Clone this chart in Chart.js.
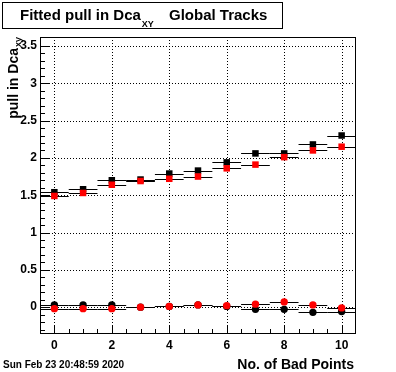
<!DOCTYPE html>
<html>
<head>
<meta charset="utf-8">
<script src="https://cdn.jsdelivr.net/npm/chart.js@4.4.1/dist/chart.umd.min.js"></script>
<style>
  html, body { margin: 0; padding: 0; background: #fff; }
  #wrap { position: relative; width: 396px; height: 372px; }
</style>
</head>
<body>
<div id="wrap"><canvas id="pullChart" width="396" height="372"></canvas></div>
<script>
// Values
const badPoints = [0, 1, 2, 3, 4, 5, 6, 7, 8, 9, 10];
const binHalfWidth = [0.5, 0.5, 0.5, 0.5, 0.5, 0.5, 0.5, 0.5, 0.5, 0.5, 0.5];
const sigmaBlack = [1.54, 1.58, 1.70, 1.71, 1.79, 1.83, 1.94, 2.06, 2.06, 2.18, 2.30];
const sigmaRed = [1.49, 1.53, 1.64, 1.69, 1.72, 1.75, 1.86, 1.91, 2.01, 2.10, 2.15];
const meanBlack = [0.03, 0.03, 0.03, 0.00, 0.01, 0.03, 0.01, -0.03, -0.03, -0.07, -0.06];
const meanRed = [-0.02, -0.02, -0.02, 0.00, 0.01, 0.03, 0.02, 0.04, 0.07, 0.03, -0.01];
const xTickValues = [0, 2, 4, 6, 8, 10];
const yTickValues = [0, 0.5, 1, 1.5, 2, 2.5, 3, 3.5];

const FONT = '"Liberation Sans", Arial, Helvetica, sans-serif';

function toPoints(values) {
    return badPoints.map((x, i) => ({ x: x, y: values[i], ex: binHalfWidth[i] }));
}

// draws dotted grid, error bars, frame, ROOT style ticks and text
const rootStyle = {
    id: 'rootStyle',
    beforeDatasetsDraw(chart) {
        const { ctx, chartArea: a, scales: { x, y } } = chart;
        ctx.save();
        ctx.strokeStyle = '#000';
        ctx.lineWidth = 1;
        ctx.setLineDash([1, 2]);
        ctx.beginPath();
        xTickValues.forEach(v => {
            const px = Math.round(x.getPixelForValue(v)) + 0.5;
            ctx.moveTo(px, a.top); ctx.lineTo(px, a.bottom);
        });
        yTickValues.forEach(v => {
            const py = Math.round(y.getPixelForValue(v)) + 0.5;
            ctx.moveTo(a.left, py); ctx.lineTo(a.right, py);
        });
        ctx.stroke();
        ctx.setLineDash([]);

        // horizontal error bars
        ctx.beginPath();
        chart.data.datasets.forEach(ds => {
            ds.data.forEach(p => {
                const py = Math.round(y.getPixelForValue(p.y)) + 0.5;
                ctx.moveTo(x.getPixelForValue(p.x - p.ex), py);
                ctx.lineTo(x.getPixelForValue(p.x + p.ex), py);
            });
        });
        ctx.stroke();
        ctx.restore();
    },
    afterDatasetsDraw(chart) {
        const { ctx, chartArea: a, scales: { x, y } } = chart;
        ctx.save();
        ctx.strokeStyle = '#000';
        ctx.lineWidth = 1;
        ctx.strokeRect(a.left + 0.5, a.top + 0.5, a.right - a.left - 1, a.bottom - a.top - 1);

        // tick marks inside the frame
        ctx.beginPath();
        for (let v = -0.3; v <= 3.6; v += 0.1) {
            const val = Math.round(v * 10) / 10;
            const py = Math.round(y.getPixelForValue(val)) + 0.5;
            const major = Math.abs(val * 2 - Math.round(val * 2)) < 1e-6;
            ctx.moveTo(a.left, py); ctx.lineTo(a.left + (major ? 9 : 5), py);
        }
        for (let v = 0; v <= 10; v += 0.5) {
            const px = Math.round(x.getPixelForValue(v)) + 0.5;
            const major = v % 2 === 0;
            ctx.moveTo(px, a.bottom); ctx.lineTo(px, a.bottom - (major ? 9 : 5));
        }
        ctx.stroke();

        // title box
        ctx.fillStyle = '#fff';
        ctx.fillRect(3, 3, 279, 25);
        ctx.strokeRect(2.5, 2.5, 280, 26);
        ctx.fillStyle = '#000';
        ctx.textBaseline = 'alphabetic';
        ctx.textAlign = 'left';
        ctx.font = 'bold 15px ' + FONT;
        ctx.fillText('Fitted pull in Dca', 20, 20);
        const w = ctx.measureText('Fitted pull in Dca').width;
        ctx.font = 'bold 9px ' + FONT;
        ctx.fillText('XY', 20 + w + 1, 27);
        ctx.font = 'bold 15px ' + FONT;
        ctx.fillText('Global Tracks', 169, 20);

        // x axis title
        ctx.font = 'bold 14px ' + FONT;
        ctx.textAlign = 'right';
        ctx.fillText('No. of Bad Points', 354, 369);

        // y axis title, rotated
        ctx.save();
        ctx.translate(18, a.top);
        ctx.rotate(-Math.PI / 2);
        ctx.font = 'bold 9px ' + FONT;
        ctx.textAlign = 'right';
        ctx.fillText('xy', 0, 3);
        const sw = ctx.measureText('xy').width;
        ctx.font = 'bold 14px ' + FONT;
        ctx.fillText('pull in Dca', -sw - 1, 0);
        ctx.restore();

        // date stamp
        ctx.font = 'bold 10px ' + FONT;
        ctx.textAlign = 'left';
        ctx.fillText('Sun Feb 23 20:48:59 2020', 3, 368);
        ctx.restore();
    }
};

new Chart(document.getElementById('pullChart'), {
    type: 'scatter',
    data: {
        datasets: [
            { label: 'sigma black', data: toPoints(sigmaBlack), pointStyle: 'rect', pointRadius: 4.6, backgroundColor: '#000', borderColor: '#000', borderWidth: 0, order: 2 },
            { label: 'sigma red', data: toPoints(sigmaRed), pointStyle: 'rect', pointRadius: 4.6, backgroundColor: '#ff0000', borderColor: '#ff0000', borderWidth: 0, order: 1 },
            { label: 'mean black', data: toPoints(meanBlack), pointStyle: 'circle', pointRadius: 3.7, backgroundColor: '#000', borderColor: '#000', borderWidth: 0, order: 2 },
            { label: 'mean red', data: toPoints(meanRed), pointStyle: 'circle', pointRadius: 3.7, backgroundColor: '#ff0000', borderColor: '#ff0000', borderWidth: 0, order: 1 }
        ]
    },
    options: {
        responsive: false,
        animation: false,
        events: [],
        layout: { padding: { top: 37, right: 40, left: 0, bottom: 0 } },
        plugins: { legend: { display: false }, tooltip: { enabled: false } },
        scales: {
            x: {
                type: 'linear', min: -0.5, max: 10.5,
                grid: { display: false, drawTicks: false },
                border: { display: false },
                afterBuildTicks: s => { s.ticks = xTickValues.map(v => ({ value: v })); },
                afterFit: s => { s.height = 38; },
                ticks: { color: '#000', padding: 4, font: { family: FONT, size: 12, weight: 'bold' }, callback: v => String(v) }
            },
            y: {
                type: 'linear', min: -0.36, max: 3.62,
                grid: { display: false, drawTicks: false },
                border: { display: false },
                afterBuildTicks: s => { s.ticks = yTickValues.map(v => ({ value: v })); },
                afterFit: s => { s.width = 40; },
                ticks: { color: '#000', padding: 3, font: { family: FONT, size: 12, weight: 'bold' }, callback: v => String(v) }
            }
        }
    },
    plugins: [rootStyle]
});
</script>
</body>
</html>
